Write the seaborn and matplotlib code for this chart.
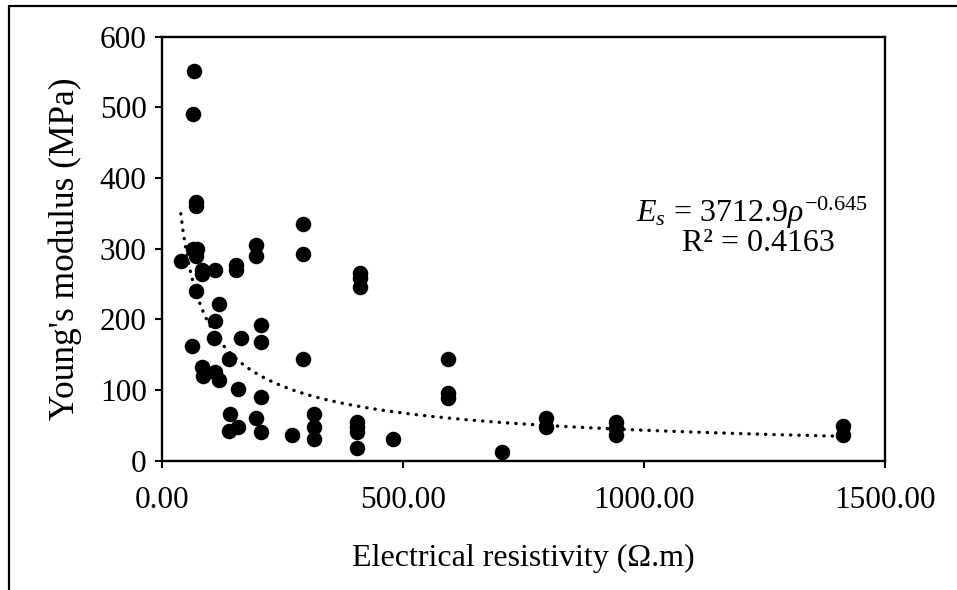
import numpy as np
import pandas as pd
import matplotlib
matplotlib.use("Agg")
import matplotlib.pyplot as plt
from matplotlib.lines import Line2D
import seaborn as sns

resistivity = [39, 66, 64, 70, 70, 65, 72, 70, 70, 63,
               84, 84, 110, 118, 110, 108, 82, 86, 110, 118,
               139, 141, 139, 154, 154, 158, 158, 164, 194, 194,
               194, 205, 205, 205, 205, 269, 292, 292, 292, 315,
               315, 315, 404, 404, 404, 404, 410, 410, 410, 480,
               594, 594, 594, 706, 796, 796, 942, 942, 942, 1412, 1412]
modulus = [282, 551, 491, 366, 360, 300, 300, 289, 240, 162,
           270, 264, 270, 222, 197, 174, 132, 120, 126, 114,
           144, 66, 42, 277, 270, 101, 48, 173, 305, 289,
           60, 192, 168, 90, 41, 36, 335, 293, 144, 66,
           48, 30, 55, 48, 41, 17.5, 265, 258, 246, 30,
           144, 96, 89, 12, 61, 48, 55, 46, 36, 49, 36]

coef_a = 3712.9
coef_b = -0.645
x_ticks = [0, 500, 1000, 1500]
x_ticklabels = ["0.00", "500.00", "1000.00", "1500.00"]
y_ticks = [0, 100, 200, 300, 400, 500, 600]

df = pd.DataFrame({"rho": resistivity, "E": modulus})
xfit = np.linspace(min(resistivity), max(resistivity), 300)
fit = pd.DataFrame({"rho": xfit, "E": coef_a * xfit ** coef_b})

sns.set_theme(style="white")
plt.rcParams["font.family"] = ["Liberation Serif", "DejaVu Serif"]
plt.rcParams["mathtext.fontset"] = "custom"
plt.rcParams["mathtext.rm"] = "Liberation Serif"
plt.rcParams["mathtext.it"] = "Liberation Serif:italic"

fig = plt.figure(figsize=(9.57, 5.90), dpi=100)
ax = fig.add_axes([162 / 957, 1 - 460.7 / 590, (885 - 162) / 957, (460.7 - 36.6) / 590])

sns.lineplot(data=fit, x="rho", y="E", ax=ax, color="black", linewidth=2.4,
             dashes=False, legend=False)
line = ax.lines[-1]
line.set_linestyle((0, (0.1, 2.4)))
line.set_dash_capstyle("round")

sns.scatterplot(data=df, x="rho", y="E", ax=ax, color="black", s=125,
                edgecolor="black", linewidth=0, zorder=3, legend=False)

ax.set_xlim(0, 1500)
ax.set_ylim(0, 600)
ax.set_xticks(x_ticks)
ax.set_xticklabels(x_ticklabels)
ax.set_yticks(y_ticks)
ax.tick_params(axis="both", which="major", labelsize=22.5, direction="out",
               length=5, width=1.5, color="black", labelcolor="black",
               bottom=True, left=True)
ax.tick_params(axis="x", pad=13)
ax.tick_params(axis="y", pad=6)
for sp in ax.spines.values():
    sp.set_visible(True)
    sp.set_color("black")
    sp.set_linewidth(1.7)

ax.set_xlabel("Electrical resistivity (\u03a9.m)", fontsize=23, color="black", labelpad=21)
ax.set_ylabel("Young's modulus (MPa)", fontsize=25.5, color="black", labelpad=13)

ax.text(0.977, 0.584, r"$E_s$ = 3712.9$\rho^{\mathrm{-0.645}}$", transform=ax.transAxes,
        ha="right", va="center", fontsize=23, color="black")
ax.text(0.931, 0.513, "R\u00b2 = 0.4163", transform=ax.transAxes,
        ha="right", va="center", fontsize=23, color="black")

# outer chart-area border (cropped on right and bottom)
fig.add_artist(Line2D([9 / 957, 9 / 957], [0, 1 - 6 / 590], transform=fig.transFigure,
                      color="black", linewidth=1.6))
fig.add_artist(Line2D([9 / 957, 1], [1 - 6 / 590, 1 - 6 / 590], transform=fig.transFigure,
                      color="black", linewidth=1.6))

fig.savefig("out.png", dpi=100)
